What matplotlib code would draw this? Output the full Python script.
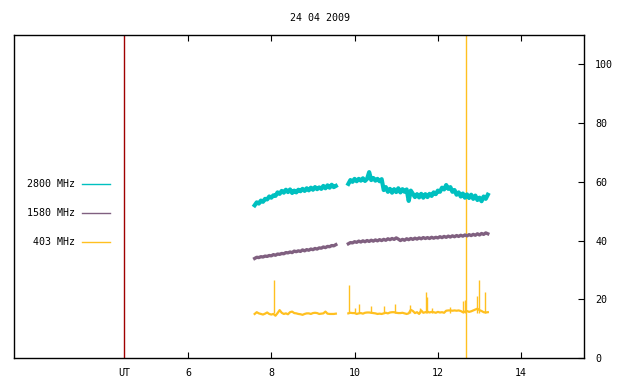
import numpy as np
import matplotlib
matplotlib.use("Agg")
import matplotlib.pyplot as plt

plt.rcParams['font.family'] = ['DejaVu Sans Mono']
plt.rcParams['font.size'] = 7.2

# sampling of the radio flux records (UT hours)
STEP = 0.05
SEG1_START = 7.60
SEG2_START = 9.85

flux_2800_a = [52.0, 53.0, 52.6, 53.6, 53.2, 54.2, 54.0, 55.0, 54.6, 55.4,
               55.2, 56.4, 55.9, 56.9, 56.3, 57.3, 56.5, 57.4, 56.2, 57.0,
               56.4, 57.3, 56.8, 57.6, 56.9, 57.8, 57.1, 58.0, 57.3, 58.2,
               57.5, 58.1, 57.6, 58.6, 57.8, 58.8, 58.0, 59.0, 58.2, 58.6]
flux_2800_b = [59.3, 60.6, 60.0, 61.0, 60.2, 61.0, 60.4, 61.2, 60.3, 61.0,
               63.3, 60.6, 61.3, 60.4, 61.0, 60.2, 60.9, 57.2, 58.2, 56.6,
               57.6, 56.3, 57.5, 56.5, 57.8, 56.4, 57.5, 56.6, 57.4, 53.5,
               57.0, 55.9, 54.8, 55.8, 54.7, 55.9, 54.6, 55.8, 54.8, 55.9,
               55.2, 56.4, 55.8, 57.0, 56.6, 58.0, 57.4, 58.9, 57.6, 58.2,
               56.6, 57.2, 55.6, 56.4, 55.0, 56.0, 54.6, 55.7, 54.5, 55.6,
               54.2, 55.3, 53.8, 54.6, 53.4, 55.0, 54.2, 55.6]

flux_1580_a = [33.9, 34.3, 34.2, 34.5, 34.4, 34.7, 34.6, 34.9, 34.8, 35.2,
               35.0, 35.4, 35.3, 35.6, 35.5, 35.9, 35.8, 36.1, 35.9, 36.4,
               36.2, 36.5, 36.3, 36.8, 36.5, 36.9, 36.7, 37.1, 36.9, 37.3,
               37.1, 37.5, 37.4, 37.8, 37.6, 38.0, 37.9, 38.3, 38.2, 38.6]
flux_1580_b = [38.9, 39.3, 39.2, 39.6, 39.4, 39.8, 39.5, 39.9, 39.6, 40.0,
               39.7, 40.1, 39.8, 40.2, 39.9, 40.3, 40.0, 40.4, 40.1, 40.6,
               40.3, 40.7, 40.4, 40.9, 40.5, 40.0, 40.4, 40.1, 40.6, 40.3,
               40.7, 40.4, 40.8, 40.5, 40.9, 40.6, 41.0, 40.7, 41.0, 40.7,
               41.1, 40.8, 41.1, 40.9, 41.3, 41.0, 41.4, 41.1, 41.5, 41.2,
               41.6, 41.3, 41.7, 41.4, 41.8, 41.5, 41.9, 41.6, 42.0, 41.7,
               42.1, 41.8, 42.3, 41.9, 42.4, 42.1, 42.6, 42.3]

flux_403_a = [15.0, 15.6, 15.2, 15.0, 14.8, 15.1, 15.5, 15.0, 14.8, 15.0,
              14.4, 15.3, 16.3, 15.4, 15.0, 15.2, 14.9, 15.6, 15.8, 15.3,
              15.2, 15.0, 14.9, 14.7, 15.0, 15.2, 15.2, 15.0, 15.3, 15.4,
              15.3, 15.0, 15.1, 15.2, 15.8, 15.1, 15.0, 15.0, 15.0, 15.1]
flux_403_b = [15.2, 15.4, 15.3, 15.3, 15.0, 15.2, 15.3, 15.1, 15.4, 15.5,
              15.5, 15.4, 15.3, 15.2, 15.0, 15.1, 15.0, 15.2, 15.4, 15.2,
              15.5, 15.6, 15.6, 15.4, 15.3, 15.3, 15.4, 15.2, 15.0, 15.2,
              16.4, 16.0, 15.3, 15.6, 15.0, 16.2, 15.4, 15.6, 15.8, 15.5,
              15.7, 15.6, 15.4, 15.7, 15.5, 15.6, 15.4, 16.1, 16.2, 16.2,
              16.1, 16.2, 16.1, 16.2, 16.0, 15.6, 15.8, 16.0, 15.7, 15.9,
              16.2, 16.5, 16.8, 16.3, 16.0, 15.6, 15.5, 15.6]

# short bursts on 403 MHz
burst_403_t = [8.07, 9.87, 10.01, 10.11, 10.40, 10.71, 10.97, 11.33, 11.57,
               11.72, 11.74, 11.86, 12.29, 12.61, 12.65, 12.94, 12.99, 13.14]
burst_403_top = [26.5, 24.8, 17.0, 18.4, 17.7, 17.7, 18.4, 18.0, 17.0,
                 22.4, 20.9, 17.0, 17.3, 19.4, 19.7, 21.1, 26.5, 22.4]
burst_403_base = 15.2

ut_marker = 4.46
event_time = 12.68

labels = ['2800 MHz', '1580 MHz', '403 MHz']
colors = ['#00c0c0', '#806080', '#ffc020']
widths = [3.0, 2.4, 1.6]

fig = plt.figure(figsize=(6.4, 3.84), dpi=100)
ax = fig.add_axes([14 / 640, 1 - 358 / 384, 570 / 640, 323 / 384])

ax.axvline(ut_marker, color='#a00000', lw=1.0)
ax.axvline(event_time, color=colors[2], lw=1.0)

series = [(flux_2800_a, flux_2800_b), (flux_1580_a, flux_1580_b), (flux_403_a, flux_403_b)]
for (seg_a, seg_b), col, w in zip(series, colors, widths):
    ta = SEG1_START + STEP * np.arange(len(seg_a))
    tb = SEG2_START + STEP * np.arange(len(seg_b))
    ax.plot(ta, seg_a, color=col, lw=w, solid_joinstyle='round')
    ax.plot(tb, seg_b, color=col, lw=w, solid_joinstyle='round')

ax.vlines(burst_403_t, burst_403_base, burst_403_top, color=colors[2], lw=1.0)

# legend drawn inside the frame, text on the left of the sample line
leg_y = [1 - (184 - 35) / 323, 1 - (213 - 35) / 323, 1 - (242 - 35) / 323]
for lab, col, yy in zip(labels, colors, leg_y):
    ax.text((75 - 14) / 570, yy, lab, transform=ax.transAxes,
            ha='right', va='center')
    ax.plot([(82 - 14) / 570, (110 - 14) / 570], [yy, yy], color=col,
            lw=1.0, transform=ax.transAxes)

ax.set_xlim(1.82, 15.51)
ax.set_ylim(0, 110)

ax.set_xticks([ut_marker, 6, 8, 10, 12, 14])
ax.set_xticklabels(['UT', '6', '8', '10', '12', '14'])
ax.tick_params(axis='x', direction='in', length=4, width=0.8, top=True,
               pad=7)
ax.xaxis.get_major_ticks()[0].tick1line.set_visible(False)
ax.xaxis.get_major_ticks()[0].tick2line.set_visible(False)

ax.yaxis.tick_right()
ax.set_yticks([0, 20, 40, 60, 80, 100])
ax.tick_params(axis='y', direction='in', length=4, width=0.8, pad=8)
for lab in ax.get_yticklabels():
    lab.set_horizontalalignment('left')

for sp in ax.spines.values():
    sp.set_linewidth(1.0)

fig.text(320 / 640, 1 - 18 / 384, '24 04 2009', ha='center', va='center')

fig.savefig('out.png', dpi=100)
